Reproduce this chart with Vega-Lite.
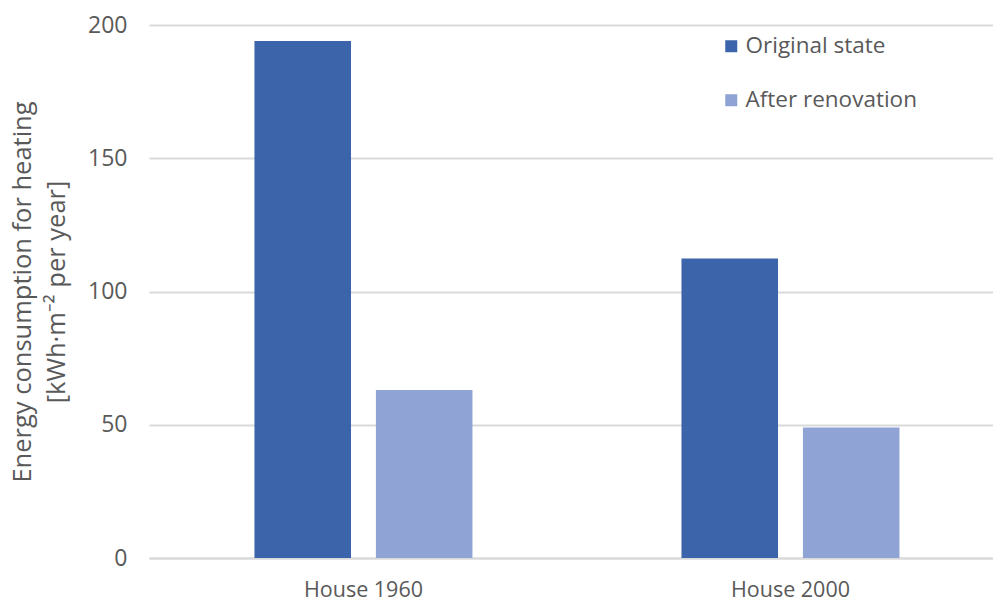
{
  "$schema": "https://vega.github.io/schema/vega-lite/v6.json",
  "width": 844,
  "height": 533,
  "autosize": {"type": "none"},
  "padding": {"left": 149, "top": 25, "right": 0, "bottom": 45},
  "background": "white",
  "config": {
    "view": {"stroke": null},
    "font": "Open Sans",
    "axis": {"labelColor": "#595959", "titleColor": "#595959", "labelFont": "Open Sans", "titleFont": "Open Sans"},
    "legend": {"labelColor": "#595959", "labelFont": "Open Sans"}
  },
  "data": {
    "values": [
      {"house": "House 1960", "state": "Original state", "value": 194},
      {"house": "House 1960", "state": "After renovation", "value": 63},
      {"house": "House 2000", "state": "Original state", "value": 112.4},
      {"house": "House 2000", "state": "After renovation", "value": 49}
    ]
  },
  "mark": {"type": "bar"},
  "encoding": {
    "x": {
      "field": "house",
      "type": "nominal",
      "scale": {"paddingInner": 0.4895, "paddingOuter": 0.233, "align": 0.53},
      "axis": {
        "title": null,
        "labelAngle": 0,
        "labelFontSize": 21.5,
        "labelPadding": 21,
        "ticks": false,
        "domainColor": "#d9d9d9",
        "domainWidth": 2
      }
    },
    "xOffset": {
      "field": "state",
      "type": "nominal",
      "sort": ["Original state", "After renovation"],
      "scale": {"paddingInner": 0.205, "paddingOuter": 0}
    },
    "y": {
      "field": "value",
      "type": "quantitative",
      "scale": {"domain": [0, 200], "nice": false},
      "axis": {
        "title": ["Energy consumption for heating", "[kWh·m⁻² per year]"],
        "titleFontSize": 25.5,
        "titleFontWeight": "normal",
        "titleLineHeight": 34,
        "titlePadding": 18,
        "labelFontSize": 23,
        "labelPadding": 22,
        "labelOverlap": false,
        "values": [0, 50, 100, 150, 200],
        "ticks": false,
        "domain": false,
        "gridColor": "#d9d9d9",
        "gridWidth": 2
      }
    },
    "color": {
      "field": "state",
      "type": "nominal",
      "sort": ["Original state", "After renovation"],
      "scale": {"domain": ["Original state", "After renovation"], "range": ["#3c64aa", "#8fa3d4"]},
      "legend": {
        "title": null,
        "orient": "none",
        "legendX": 571,
        "legendY": 10,
        "symbolType": "square",
        "symbolSize": 144,
        "symbolStrokeWidth": 0,
        "labelFontSize": 22.5,
        "labelOffset": 3,
        "labelLimit": 400,
        "rowPadding": 31,
        "padding": 0
      }
    }
  }
}
